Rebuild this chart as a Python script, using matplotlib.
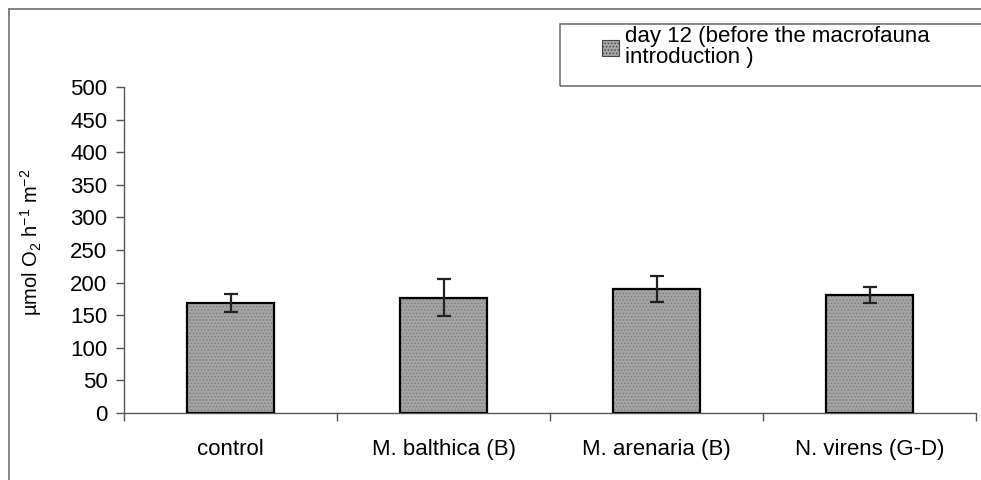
import matplotlib.pyplot as plt
from matplotlib.patches import Rectangle
from matplotlib.lines import Line2D

plt.rcParams['font.family'] = ['Liberation Sans', 'DejaVu Sans']
plt.rcParams['mathtext.fontset'] = 'custom'
plt.rcParams['mathtext.rm'] = 'Liberation Sans'
plt.rcParams['mathtext.it'] = 'Liberation Sans:italic'
plt.rcParams['hatch.linewidth'] = 0.6

# oxygen consumption before macrofauna was added
treatments = ['control', 'M. balthica (B)', 'M. arenaria (B)', 'N. virens (G-D)']
uptake = [169, 177, 190, 181]
uptake_err = [14, 28, 20, 13]
series_label = 'day 12 (before the macrofauna\nintroduction )'

W, H = 981, 480
fig = plt.figure(figsize=(W / 100, H / 100), dpi=100)
ax = fig.add_axes([124 / W, 1 - 413 / H, (976 - 124) / W, (413 - 87) / H])

x = list(range(len(treatments)))
bar_fill = '#a4a4a4'
# speckled fill first, then the black outline on top
ax.bar(x, uptake, width=0.41, color=bar_fill, edgecolor='#7a7a7a',
       hatch='.....', linewidth=0, zorder=2)
ax.bar(x, uptake, width=0.41, fill=False, edgecolor='black',
       linewidth=1.6, zorder=3)
ax.errorbar(x, uptake, yerr=uptake_err, fmt='none', ecolor='#222222',
            elinewidth=1.6, capsize=5, capthick=1.6, zorder=4)

ax.set_xlim(-0.5, len(treatments) - 0.5)
ax.set_ylim(0, 500)
ax.set_yticks(range(0, 501, 50))
ax.set_xticks(x)
ax.set_xticklabels(treatments, fontsize=16)
ax.set_xticks([i - 0.5 for i in range(len(treatments) + 1)], minor=True)
ax.tick_params(axis='x', which='major', length=0, pad=19)
ax.tick_params(axis='x', which='minor', length=6, direction='out',
               color='#555555', width=1)
ax.tick_params(axis='y', length=6, direction='out', color='#555555',
               width=1, labelsize=16, pad=6)

for side in ('top', 'right'):
    ax.spines[side].set_visible(False)
for side in ('left', 'bottom'):
    ax.spines[side].set_color('#555555')
    ax.spines[side].set_linewidth(1)

ax.set_ylabel(r'µmol O$_2$ h$^{-1}$ m$^{-2}$', fontsize=14.5)
ax.yaxis.set_label_coords(-0.094, 0.525)

# outer chart border (top and left edges only inside the canvas)
fig.add_artist(Line2D([9 / W, 9 / W], [0, 1 - 9 / H], color='#7a7a7a',
                      linewidth=1.3, transform=fig.transFigure))
fig.add_artist(Line2D([9 / W, 1], [1 - 9 / H, 1 - 9 / H], color='#7a7a7a',
                      linewidth=1.3, transform=fig.transFigure))

# legend box running off the right edge
fig.add_artist(Rectangle((560 / W, 1 - 86 / H), (W - 560 + 5) / W, 62 / H,
                         transform=fig.transFigure, fill=False,
                         edgecolor='#666666', linewidth=1.1))
handle = Rectangle((0, 0), 1, 1, facecolor=bar_fill, edgecolor='#444444',
                   hatch='.....', linewidth=0.8)
leg = fig.legend([handle], [series_label], loc='upper left',
                 bbox_to_anchor=(598 / W, 1 - 22 / H), frameon=False,
                 fontsize=16, handlelength=0.75, handleheight=0.75,
                 handletextpad=0.25, borderpad=0.2, labelspacing=0,
                 borderaxespad=0)
for t in leg.get_texts():
    t.set_linespacing(1.0)

fig.savefig('out.png', dpi=100)
